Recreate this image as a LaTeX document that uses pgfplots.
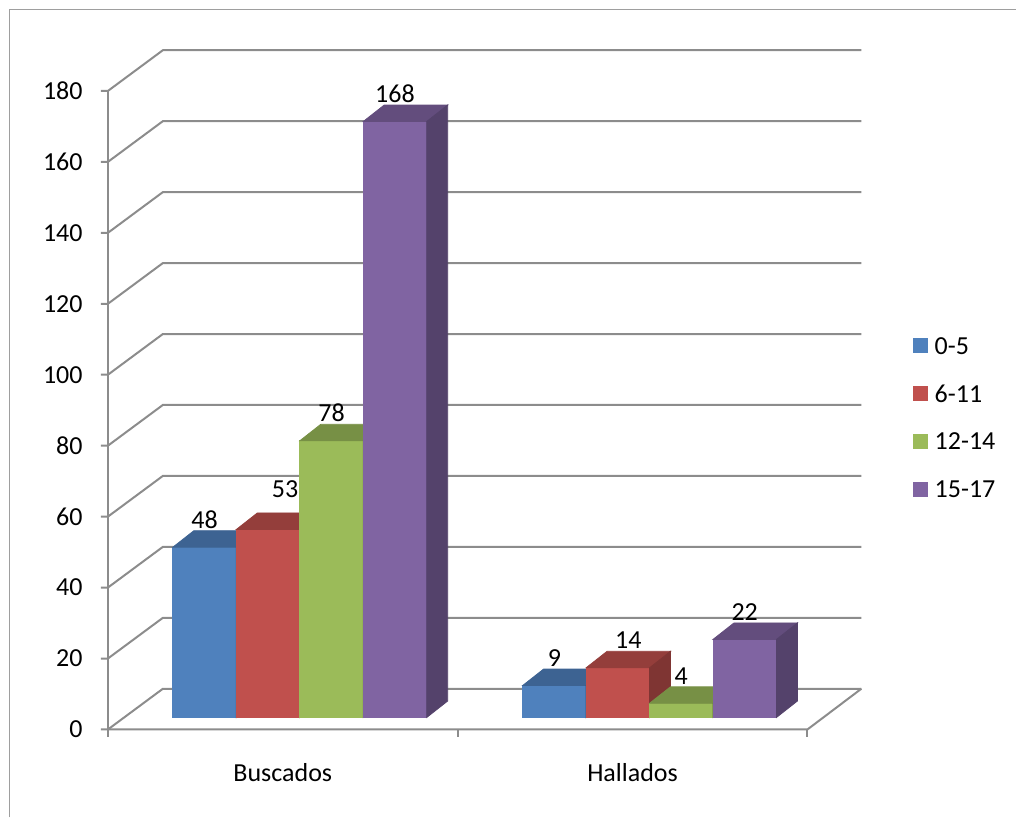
\documentclass[border=0pt]{standalone}
\usepackage{pgfplots}
\pgfplotsset{compat=1.18}
\usepackage{pgfplotstable}
\usepackage{fontspec}
\setmainfont{Carlito}

\definecolor{blueF}{HTML}{4F81BD}\definecolor{blueT}{HTML}{3D6392}\definecolor{blueS}{HTML}{34557D}
\definecolor{redF}{HTML}{C0504D}\definecolor{redT}{HTML}{943E3B}\definecolor{redS}{HTML}{7F3533}
\definecolor{greenF}{HTML}{9BBB59}\definecolor{greenT}{HTML}{779045}\definecolor{greenS}{HTML}{667B3B}
\definecolor{purpF}{HTML}{8064A2}\definecolor{purpT}{HTML}{634D7D}\definecolor{purpS}{HTML}{54426B}
\definecolor{gridc}{HTML}{8C8C8C}
\definecolor{framec}{HTML}{9E9E9E}

\newcommand\lbl{\fontsize{13}{15.6}\selectfont}
\pgfdeclareplotmark{nothing}{}

% x = category position, v = value, ldx/ldy = label offset (pt)
\pgfplotstableread{
x   v    ldx  ldy
300 48   0    9.5
650 9    0    9.5
}\tblA
\pgfplotstableread{
x   v    ldx   ldy
300 53   8.5   16.2
650 14   5.25  9.5
}\tblB
\pgfplotstableread{
x   v    ldx  ldy
300 78   0    9.5
650 4    0    9.5
}\tblC
\pgfplotstableread{
x   v    ldx  ldy
300 168  0    9.5
650 22   0    9.5
}\tblD

% 3d box + value label per point: #1 table, #2 shift, #3 front, #4 top, #5 side
\newcommand\barseries[5]{%
  \addplot[scatter, only marks, mark=nothing,
    visualization depends on={\thisrow{v} \as \barh},
    visualization depends on={\thisrow{ldx} \as \ldx},
    visualization depends on={\thisrow{ldy} \as \ldy},
    scatter/@pre marker code/.code={
      \fill[#3] (-15.875pt,0pt) rectangle (15.875pt,{-\barh*1.775pt});
      \fill[#4] (-15.875pt,0pt) -- (15.875pt,0pt) -- (26.375pt,8.25pt) -- (-5.375pt,8.25pt) -- cycle;
      \fill[#5] (15.875pt,0pt) -- (26.375pt,8.25pt) -- (26.375pt,{8.25pt-\barh*1.775pt}) -- (15.875pt,{-\barh*1.775pt}) -- cycle;
      \node[anchor=base, font=\lbl, inner sep=0pt, text=black] at (\ldx pt,\ldy pt)
        {\pgfmathprintnumber[fixed, precision=0, assume math mode=true]{\barh}};
    },
    scatter/@post marker code/.code={}]
    table[x expr=\thisrow{x}+#2, y=v] {#1};
}

\begin{document}
\begin{tikzpicture}
\begin{axis}[
    x=0.5pt, y=1.775pt,
    xmin=0, xmax=1017, ymin=-28.169, ymax=202.254,
    hide axis, clip=false,
    at={(0,0)}, anchor=south west,
    /pgf/number format/assume math mode=true,
]
  \path (axis cs:0,-28.169) rectangle (axis cs:1017,202.254);
  % outer frame
  \draw[framec, line width=0.75pt] (axis cs:9.5,-28.169) -- (axis cs:9.5,{(718-9.5)/3.55}) -- (axis cs:1017,{(718-9.5)/3.55});
  % walls and tick labels
  \pgfplotsinvokeforeach{0,20,...,180}{
    \draw[gridc, line width=1pt] (axis cs:101,#1-3.38) -- (axis cs:108,#1-3.38) -- (axis cs:163,#1+8.1) -- (axis cs:862,#1+8.1);
    \node[anchor=east, font=\lbl, inner sep=0pt] at (axis cs:83,#1-3.38) {#1};
  }
  \draw[gridc, line width=1pt] (axis cs:108,176.62) -- (axis cs:108,-5.63);
  \draw[gridc, line width=1pt] (axis cs:108,-3.38) -- (axis cs:808,-3.38) -- (axis cs:862,8.1);
  \draw[gridc, line width=1pt] (axis cs:458,-3.38) -- (axis cs:458,-5.63);
  \draw[gridc, line width=1pt] (axis cs:808,-3.38) -- (axis cs:808,-5.63);

  \barseries{\tblA}{-95.25}{blueF}{blueT}{blueS}
  \barseries{\tblB}{-31.75}{redF}{redT}{redS}
  \barseries{\tblC}{31.75}{greenF}{greenT}{greenS}
  \barseries{\tblD}{95.25}{purpF}{purpT}{purpS}

  % category labels
  \node[anchor=base, font=\lbl] at (axis cs:283,{(718-782)/3.55}) {Buscados};
  \node[anchor=base, font=\lbl] at (axis cs:633,{(718-782)/3.55}) {Hallados};

  % legend
  \fill[blueF] (axis cs:914,{(718-338.5)/3.55}) rectangle (axis cs:929,{(718-353.5)/3.55});
  \node[anchor=west, font=\lbl, inner sep=0pt] at (axis cs:935,{(718-346)/3.55}) {0-5};
  \fill[redF] (axis cs:914,{(718-386.5)/3.55}) rectangle (axis cs:929,{(718-401.5)/3.55});
  \node[anchor=west, font=\lbl, inner sep=0pt] at (axis cs:935,{(718-394)/3.55}) {6-11};
  \fill[greenF] (axis cs:914,{(718-434)/3.55}) rectangle (axis cs:929,{(718-449)/3.55});
  \node[anchor=west, font=\lbl, inner sep=0pt] at (axis cs:935,{(718-441.5)/3.55}) {12-14};
  \fill[purpF] (axis cs:914,{(718-482.5)/3.55}) rectangle (axis cs:929,{(718-497.5)/3.55});
  \node[anchor=west, font=\lbl, inner sep=0pt] at (axis cs:935,{(718-490)/3.55}) {15-17};
\end{axis}
\end{tikzpicture}
\end{document}
